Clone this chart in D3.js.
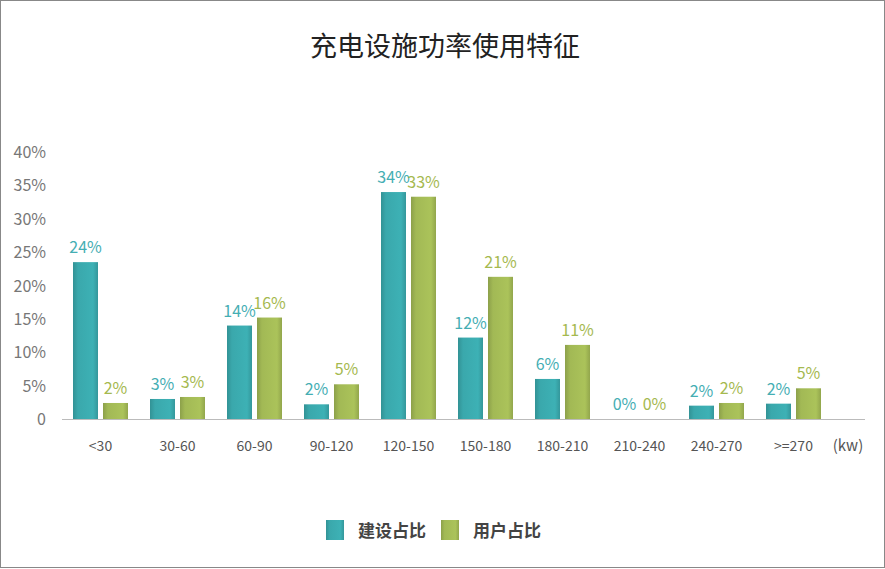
<!DOCTYPE html>
<html><head><meta charset="utf-8">
<script src="https://cdn.jsdelivr.net/npm/d3@7"></script>
<style>body{margin:0;background:#fff}svg{display:block;font-family:"Noto Sans CJK SC","Noto Sans",sans-serif}</style>
</head><body><svg id="c" width="885" height="569"></svg>
<script>
const categories=["<30","30-60","60-90","90-120","120-150","150-180","180-210","210-240","240-270",">=270"];
const buildValues=[23.5,3.0,14.0,2.2,34.0,12.2,6.0,0,2.0,2.3];
const userValues=[2.4,3.3,15.2,5.2,33.3,21.3,11.1,0,2.4,4.6];
const buildLabels=["24%","3%","14%","2%","34%","12%","6%","0%","2%","2%"];
const userLabels=["2%","3%","16%","5%","33%","21%","11%","0%","2%","5%"];
const yTicks=[0,5,10,15,20,25,30,35,40];
const seriesNames=["建设占比","用户占比"];
const colors=["#3aa8ac","#a2b955"];
const labelColors=["#45aeb3","#a5b94f"];

const svg=d3.select("#c");
svg.append("rect").attr("x",0.5).attr("y",0.5).attr("width",884).attr("height",567).attr("fill","#fff").attr("stroke","#888");
svg.append("text").attr("x",445).attr("y",56).attr("text-anchor","middle").attr("font-size",27).attr("fill","#222").text("充电设施功率使用特征");

const y=d3.scaleLinear().domain([0,40]).range([419,152]);
const x=d3.scaleBand().domain(categories).range([62,832]).paddingInner(0).paddingOuter(0);
const defs=svg.append("defs");
colors.forEach((c,i)=>{
  const g=defs.append("linearGradient").attr("id","g"+i);
  g.append("stop").attr("offset","0").attr("stop-color",d3.color(c).darker(0.4));
  g.append("stop").attr("offset","0.2").attr("stop-color",c);
  g.append("stop").attr("offset","0.8").attr("stop-color",d3.color(c).brighter(0.15));
  g.append("stop").attr("offset","1").attr("stop-color",d3.color(c).darker(0.3));
});
svg.append("line").attr("x1",62).attr("x2",865).attr("y1",419.5).attr("y2",419.5).attr("stroke","#bbb");
yTicks.forEach(t=>svg.append("text").attr("x",46).attr("y",y(t)+6).attr("text-anchor","end").attr("font-size",16).attr("fill","#777").text(t===0?"0":t+"%"));
categories.forEach(c=>svg.append("text").attr("x",x(c)+x.bandwidth()/2).attr("y",451).attr("text-anchor","middle").attr("font-size",14).attr("fill","#555").text(c));
svg.append("text").attr("x",848).attr("y",451).attr("text-anchor","middle").attr("font-size",15).attr("fill","#555").text("(kw)");
const bw=25,gap=5;
[buildValues,userValues].forEach((vals,s)=>{
  const labs=s===0?buildLabels:userLabels;
  categories.forEach((c,i)=>{
    const cx=x(c)+x.bandwidth()/2;
    const bx=s===0?cx-gap/2-bw:cx+gap/2;
    if(vals[i]>0) svg.append("rect").attr("x",bx).attr("y",y(vals[i])).attr("width",bw).attr("height",y(0)-y(vals[i])).attr("fill","url(#g"+s+")");
    svg.append("text").attr("x",bx+bw/2).attr("y",y(vals[i])-9).attr("text-anchor","middle").attr("font-size",16).attr("fill",labelColors[s]).text(labs[i]);
  });
});
seriesNames.forEach((n,i)=>{
  const lx=i===0?326:441;
  svg.append("rect").attr("x",lx).attr("y",520).attr("width",18).attr("height",20).attr("fill","url(#g"+i+")");
  svg.append("text").attr("x",lx+32).attr("y",537).attr("font-size",17).attr("font-weight","bold").attr("fill","#444").text(n);
});
</script></body></html>
